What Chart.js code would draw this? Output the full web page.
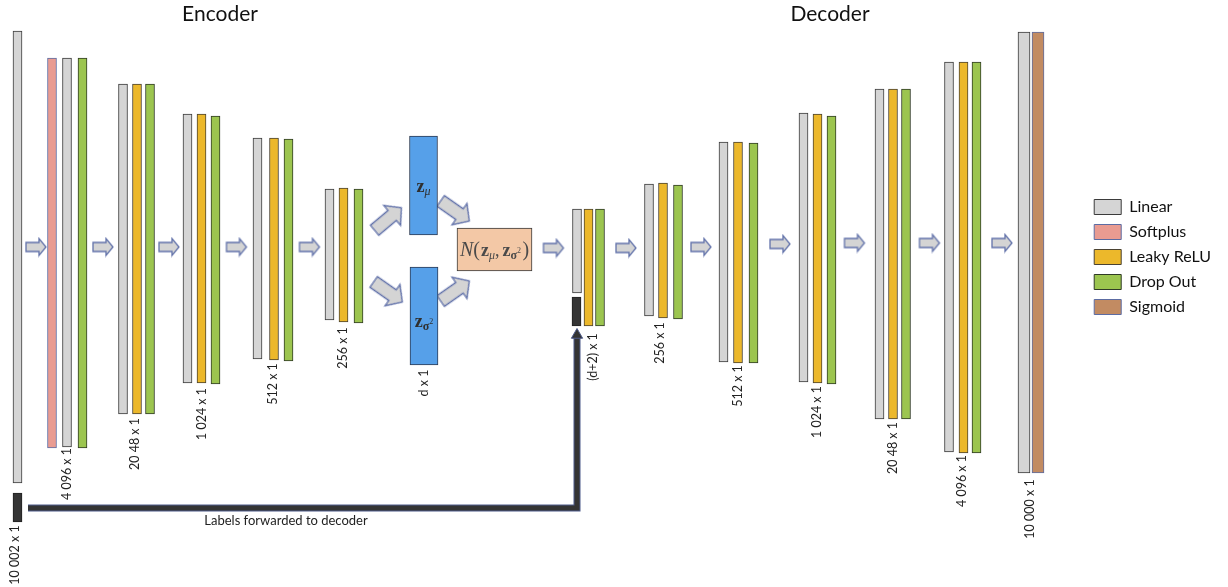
<!DOCTYPE html>
<html>
<head>
<meta charset="utf-8">
<script src="https://cdn.jsdelivr.net/npm/chart.js@4.4.1/dist/chart.umd.min.js"></script>
<style>
  html, body { margin: 0; padding: 0; background: #ffffff; }
  canvas { display: block; }
</style>
</head>
<body>
<canvas id="c" width="1228" height="587"></canvas>
<script>
// ---------------- DATA ----------------
// Each bar: centre x, top y, bottom y (diagram units)
const linearX      = [17.5, 67, 123, 187.5, 257.5, 329.5, 577, 649, 723.5, 803.5, 879.5, 949];
const linearTop    = [31, 58, 84, 114, 138, 189, 209, 184, 142, 113, 89, 62];
const linearBottom = [483, 447, 414, 383, 359, 320, 293, 316, 362, 382, 419, 452];

const outLinearX = [1024];
const outLinearTop = [32];
const outLinearBottom = [473];

const softplusX = [52];
const softplusTop = [58];
const softplusBottom = [448];

const reluX      = [137, 201.5, 274, 343.5, 588.5, 663, 738, 817.5, 893, 963.5];
const reluTop    = [84, 114, 138, 188, 209, 183, 142, 114, 89, 62];
const reluBottom = [414, 383, 360, 322, 326, 318, 363, 383, 419, 453];

const dropX      = [82.5, 150, 215.5, 288.5, 358.5, 600, 678, 753.5, 831.5, 906, 976.5];
const dropTop    = [58, 84, 116, 139, 189, 209, 185, 143, 116, 89, 62];
const dropBottom = [448, 414, 384, 361, 323, 326, 319, 363, 384, 419, 453];

const sigmoidX = [1038];
const sigmoidTop = [32];
const sigmoidBottom = [473];

const labelBarX = [17.5, 576.5];
const labelBarTop = [493, 297];
const labelBarBottom = [522, 326];

const latentX = [423.5, 424];
const latentTop = [136, 267];
const latentBottom = [235, 365];

const samplingX = [494.5];
const samplingTop = [228];
const samplingBottom = [271];

// flow arrows
const arrowX = [36, 103, 169, 236.5, 309.5, 553.5, 626, 701, 780, 854.5, 929.5, 1002];
const arrowY = [247, 247, 247, 247, 247, 248, 248, 247, 244, 243, 243, 243];
const diagArrowX = [388, 455, 388, 455];
const diagArrowY = [219, 211, 292, 291];
const diagArrowAngle = [-40, 35, 35, -35];

// label forwarding path
const forwardPathX = [28, 577, 577];
const forwardPathY = [508, 508, 338];
const forwardHeadX = [577];
const forwardHeadY = [335];

// texts
const titles = ['Encoder', 'Decoder'];
const titleX = [220, 830];
const titleY = [14, 14];

const dimLabels = ['10 002 x 1', '4 096 x 1', '20 48 x 1', '1 024 x 1', '512 x 1', '256 x 1', 'd x 1',
                   '(d+2) x 1', '256 x 1', '512 x 1', '1 024 x 1', '20 48 x 1', '4 096 x 1', '10 000 x 1'];
const dimX = [15, 67, 135, 202, 273, 343, 424, 593, 660, 738, 817, 893, 962, 1030];
const dimY = [555, 474, 444, 414, 384, 348, 383, 357, 343, 386, 412, 448, 481, 509];

const forwardText = 'Labels forwarded to decoder';
const forwardTextX = 286, forwardTextY = 521;

const legendNames = ['Linear', 'Softplus', 'Leaky ReLU', 'Drop Out', 'Sigmoid'];

// ---------------- helpers ----------------
function bars(xs, tops, bottoms) {
  return xs.map((x, i) => ({ x: x, y: [tops[i], bottoms[i]] }));
}
function pts(xs, ys) {
  return xs.map((x, i) => ({ x: x, y: ys[i] }));
}
function makeArrow(len, headW, shaftW, headLen) {
  const pad = 2;
  const c = document.createElement('canvas');
  c.width = len + pad * 2;
  c.height = headW + pad * 2;
  const g = c.getContext('2d');
  const cy = c.height / 2, x0 = pad, x1 = pad + len - headLen, x2 = pad + len;
  g.beginPath();
  g.moveTo(x0, cy - shaftW / 2);
  g.lineTo(x1, cy - shaftW / 2);
  g.lineTo(x1, cy - headW / 2);
  g.lineTo(x2, cy);
  g.lineTo(x1, cy + headW / 2);
  g.lineTo(x1, cy + shaftW / 2);
  g.lineTo(x0, cy + shaftW / 2);
  g.closePath();
  g.fillStyle = '#d4d4d4';
  g.fill();
  g.lineJoin = 'miter';
  g.strokeStyle = '#6272aa';
  g.lineWidth = 1.3;
  g.stroke();
  return c;
}
const smallArrow = makeArrow(20, 17, 9, 7);
const bigArrow = makeArrow(35, 26, 13, 12);

const BAR = { grouped: false, borderSkipped: false, borderWidth: 1, clip: false };

const datasets = [
  Object.assign({ label: 'Linear', data: bars(linearX, linearTop, linearBottom),
    backgroundColor: '#d5d5d5', borderColor: '#3b3b3b', barThickness: 9 }, BAR),
  Object.assign({ label: 'Softplus', data: bars(softplusX, softplusTop, softplusBottom),
    backgroundColor: '#e99b91', borderColor: '#5c6ca3', barThickness: 9 }, BAR),
  Object.assign({ label: 'Leaky ReLU', data: bars(reluX, reluTop, reluBottom),
    backgroundColor: '#ecb82b', borderColor: '#4a4232', barThickness: 9 }, BAR),
  Object.assign({ label: 'Drop Out', data: bars(dropX, dropTop, dropBottom),
    backgroundColor: '#9cc54f', borderColor: '#2f3a25', barThickness: 9 }, BAR),
  Object.assign({ label: 'Sigmoid', data: bars(sigmoidX, sigmoidTop, sigmoidBottom),
    backgroundColor: '#c28b62', borderColor: '#5c6ca3', barThickness: 12 }, BAR),
  Object.assign({ label: 'Linear (output)', data: bars(outLinearX, outLinearTop, outLinearBottom),
    backgroundColor: '#d5d5d5', borderColor: '#3b3b3b', barThickness: 12 }, BAR),
  Object.assign({ label: 'Labels', data: bars(labelBarX, labelBarTop, labelBarBottom),
    backgroundColor: '#353535', borderColor: '#222222', barThickness: 9 }, BAR),
  Object.assign({ label: 'Latent', data: bars(latentX, latentTop, latentBottom),
    backgroundColor: '#56a0e9', borderColor: '#2c3a52', barThickness: 28 }, BAR),
  Object.assign({ label: 'Sampling', data: bars(samplingX, samplingTop, samplingBottom),
    backgroundColor: '#f3c8a6', borderColor: '#3a3a3a', barThickness: 75 }, BAR),
  { type: 'line', label: 'head', data: pts(forwardHeadX, forwardHeadY), showLine: false,
    pointStyle: 'triangle', pointRadius: 6.5, backgroundColor: '#333333', borderColor: '#4d5a8a',
    pointBorderWidth: 1, clip: false },
  { type: 'line', label: 'path-inner', data: pts(forwardPathX, forwardPathY), borderColor: '#343434',
    borderWidth: 5, pointRadius: 0, tension: 0, borderJoinStyle: 'miter', borderCapStyle: 'butt', fill: false, clip: false },
  { type: 'line', label: 'path-outline', data: pts(forwardPathX, forwardPathY), borderColor: '#4d5a8a',
    borderWidth: 7, pointRadius: 0, tension: 0, borderJoinStyle: 'miter', borderCapStyle: 'butt', fill: false, clip: false },
  { type: 'line', label: 'arrows', data: pts(arrowX, arrowY), showLine: false,
    pointStyle: smallArrow, pointRadius: 5, clip: false },
  { type: 'line', label: 'diag-arrows', data: pts(diagArrowX, diagArrowY), showLine: false,
    pointStyle: bigArrow, pointRadius: 5, pointRotation: diagArrowAngle, clip: false }
];

// ---------------- text plugin ----------------
function drawRuns(ctx, runs, cx, cy) {
  let total = 0;
  runs.forEach(r => { ctx.font = r.font; r.w = ctx.measureText(r.t).width; total += r.w + (r.gap || 0); });
  let x = cx - total / 2;
  runs.forEach(r => {
    ctx.font = r.font;
    ctx.fillText(r.t, x, cy + (r.dy || 0));
    x += r.w + (r.gap || 0);
  });
}

const SERIF = '"Liberation Serif", "DejaVu Serif", serif';
const textPlugin = {
  id: 'diagramText',
  afterDatasetsDraw(chart) {
    const ctx = chart.ctx, xs = chart.scales.x, ys = chart.scales.y;
    ctx.save();
    // titles
    ctx.fillStyle = '#111111';
    ctx.textAlign = 'center';
    ctx.textBaseline = 'middle';
    ctx.font = '21px Lato, "Open Sans", sans-serif';
    titles.forEach((t, i) => ctx.fillText(t, xs.getPixelForValue(titleX[i]), ys.getPixelForValue(titleY[i])));
    // dimension labels (rotated)
    ctx.font = '12.5px Lato, "Open Sans", sans-serif';
    ctx.fillStyle = '#222222';
    dimLabels.forEach((t, i) => {
      ctx.save();
      ctx.translate(xs.getPixelForValue(dimX[i]), ys.getPixelForValue(dimY[i]));
      ctx.rotate(-Math.PI / 2);
      ctx.fillText(t, 0, 0);
      ctx.restore();
    });
    // forwarded labels caption
    ctx.font = '13px Lato, "Open Sans", sans-serif';
    ctx.fillText(forwardText, xs.getPixelForValue(forwardTextX), ys.getPixelForValue(forwardTextY));

    // latent symbols
    ctx.textAlign = 'left';
    ctx.textBaseline = 'alphabetic';
    ctx.fillStyle = '#2f2f2f';
    drawRuns(ctx, [
      { t: 'z', font: 'bold 18px ' + SERIF },
      { t: 'μ', font: 'italic 12px ' + SERIF, dy: 3 }
    ], xs.getPixelForValue(latentX[0]), ys.getPixelForValue(192));
    drawRuns(ctx, [
      { t: 'z', font: 'bold 18px ' + SERIF },
      { t: 'σ', font: 'bold 12px ' + SERIF, dy: 3 },
      { t: '2', font: '8px ' + SERIF, dy: -3 }
    ], xs.getPixelForValue(latentX[1]), ys.getPixelForValue(327));

    // sampling formula
    ctx.fillStyle = '#4a4a4a';
    const sx = xs.getPixelForValue(samplingX[0]);
    const sy = ys.getPixelForValue((samplingTop[0] + samplingBottom[0]) / 2) + 6;
    drawRuns(ctx, [
      { t: 'N', font: 'italic 20px ' + SERIF },
      { t: '(', font: '20px ' + SERIF, gap: 1 },
      { t: 'z', font: 'bold 18px ' + SERIF },
      { t: 'μ', font: 'italic 12px ' + SERIF, dy: 3 },
      { t: ',', font: '18px ' + SERIF, gap: 3 },
      { t: 'z', font: 'bold 18px ' + SERIF },
      { t: 'σ', font: 'bold 12px ' + SERIF, dy: 3 },
      { t: '2', font: '8px ' + SERIF, dy: -3, gap: 1.5 },
      { t: ')', font: '20px ' + SERIF }
    ], sx, sy);
    ctx.restore();
  }
};

const chart = new Chart(document.getElementById('c'), {
  type: 'bar',
  data: { datasets: datasets },
  options: {
    responsive: false,
    animation: false,
    events: [],
    layout: { padding: { left: 0, right: 7, top: 0, bottom: 0 } },
    scales: {
      x: { type: 'linear', min: 0, max: 1085, display: false, offset: false, grid: { display: false } },
      y: { type: 'linear', min: 0, max: 587, reverse: true, display: false, grid: { display: false } }
    },
    plugins: {
      tooltip: { enabled: false },
      legend: {
        position: 'right',
        align: 'start',
        title: { display: true, text: '', padding: { top: 178, bottom: 0 }, font: { size: 10 } },
        labels: {
          boxWidth: 27,
          boxHeight: 15,
          padding: 9,
          color: '#111111',
          font: { family: 'Lato, "Open Sans", sans-serif', size: 16 },
          filter: item => legendNames.includes(item.text)
        }
      }
    }
  },
  plugins: [textPlugin]
});

// make one diagram unit equal one pixel inside the plotting area
const ca = chart.chartArea;
chart.options.scales.x.min = ca.left;
chart.options.scales.x.max = ca.right;
chart.options.scales.y.min = ca.top;
chart.options.scales.y.max = ca.bottom;
chart.update();
</script>
</body>
</html>
